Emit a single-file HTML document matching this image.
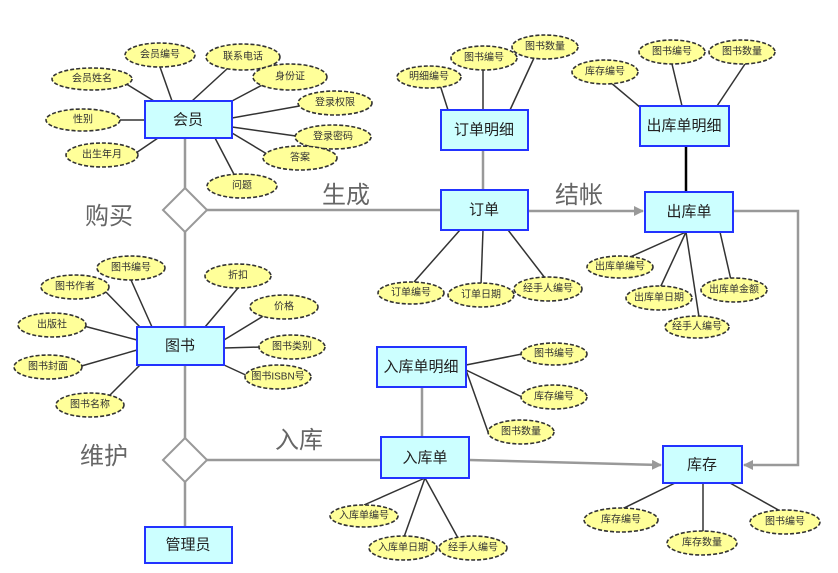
<!DOCTYPE html>
<html><head><meta charset="utf-8"><style>
html,body{margin:0;padding:0;background:#fff;}
svg{display:block;font-family:"Liberation Sans","Noto Sans CJK SC",sans-serif;}
.e{fill:#ffff99;stroke:#333;stroke-width:1.6;stroke-dasharray:4,2;}
.r{fill:#ccffff;stroke:#2233ff;stroke-width:2;}
.l{stroke:#333;stroke-width:1.5;}
.g{stroke:#999;stroke-width:2.5;fill:none;}
.t{font-size:10px;fill:#333;text-anchor:middle;dominant-baseline:central;}
.n{font-size:15px;fill:#222;text-anchor:middle;dominant-baseline:central;}
.b{font-size:24px;fill:#666;}
</style></head><body>
<svg width="838" height="573" viewBox="0 0 838 573">
<defs><marker id="a" markerWidth="10" markerHeight="10" refX="9" refY="5" orient="auto" markerUnits="userSpaceOnUse"><path d="M0,0 L10,5 L0,10 z" fill="#999"/></marker></defs>
<!-- gray relation lines -->
<path class="g" d="M185,138 V188 M185,232 V327 M207,210 H441 M185,365 V438 M185,482 V527 M207,460 H381 M483,150 V190 M422,387 V437"/>
<path class="g" d="M528,211 H643" marker-end="url(#a)"/>
<path class="g" d="M469,460 L661,465" marker-end="url(#a)"/>
<path class="g" d="M733,211 H798 V465 H744" marker-end="url(#a)"/>
<line x1="686" y1="146" x2="686" y2="192" stroke="#000" stroke-width="2.5"/>
<polygon points="185,188 207,210 185,232 163,210" fill="#fff" stroke="#999" stroke-width="2"/>
<polygon points="185,438 207,460 185,482 163,460" fill="#fff" stroke="#999" stroke-width="2"/>
<!-- attribute lines -->
<g class="l">
<line x1="172" y1="101" x2="160" y2="67"/><line x1="192" y1="101" x2="228" y2="68"/><line x1="232" y1="101" x2="266" y2="83"/>
<line x1="232" y1="118" x2="305" y2="105"/><line x1="232" y1="127" x2="303" y2="137"/><line x1="232" y1="133" x2="272" y2="157"/><line x1="215" y1="138" x2="238" y2="182"/>
<line x1="154" y1="101" x2="120" y2="80"/><line x1="145" y1="120" x2="115" y2="120"/><line x1="158" y1="138" x2="130" y2="157"/>
<line x1="448" y1="110" x2="440" y2="85"/><line x1="483" y1="110" x2="483" y2="70"/><line x1="510" y1="110" x2="534" y2="58"/>
<line x1="460" y1="230" x2="414" y2="282"/><line x1="483" y1="230" x2="481" y2="285"/><line x1="508" y1="230" x2="545" y2="278"/>
<line x1="641" y1="108" x2="610" y2="82"/><line x1="682" y1="106" x2="672" y2="64"/><line x1="717" y1="106" x2="745" y2="64"/>
<line x1="686" y1="232" x2="619" y2="262"/><line x1="686" y1="232" x2="660" y2="288"/><line x1="686" y1="232" x2="699" y2="317"/><line x1="720" y1="232" x2="731" y2="280"/>
<line x1="152" y1="327" x2="131" y2="280"/><line x1="140" y1="327" x2="104" y2="290"/><line x1="137" y1="340" x2="80" y2="325"/><line x1="137" y1="350" x2="78" y2="367"/><line x1="140" y1="365" x2="110" y2="395"/>
<line x1="205" y1="327" x2="238" y2="288"/><line x1="224" y1="340" x2="265" y2="315"/><line x1="224" y1="348" x2="262" y2="347"/><line x1="224" y1="365" x2="250" y2="377"/>
<line x1="466" y1="365" x2="522" y2="354"/><line x1="466" y1="370" x2="522" y2="397"/><line x1="466" y1="370" x2="488" y2="432"/>
<line x1="425" y1="478" x2="364" y2="505"/><line x1="425" y1="478" x2="404" y2="537"/><line x1="425" y1="478" x2="458" y2="538"/>
<line x1="675" y1="483" x2="620" y2="510"/><line x1="703" y1="483" x2="703" y2="533"/><line x1="730" y1="483" x2="782" y2="512"/>
</g>
<!-- entities -->
<rect class="r" x="145" y="101" width="87" height="37"/><text class="n" x="188" y="120">会员</text>
<rect class="r" x="137" y="327" width="87" height="38"/><text class="n" x="180" y="346">图书</text>
<rect class="r" x="145" y="527" width="87" height="36"/><text class="n" x="188" y="545">管理员</text>
<rect class="r" x="441" y="110" width="87" height="40"/><text class="n" x="484" y="130">订单明细</text>
<rect class="r" x="441" y="190" width="87" height="40"/><text class="n" x="484" y="210">订单</text>
<rect class="r" x="640" y="106" width="89" height="40"/><text class="n" x="684" y="126">出库单明细</text>
<rect class="r" x="645" y="192" width="88" height="40"/><text class="n" x="689" y="212">出库单</text>
<rect class="r" x="377" y="347" width="89" height="40"/><text class="n" x="421" y="367">入库单明细</text>
<rect class="r" x="381" y="437" width="88" height="41"/><text class="n" x="425" y="458">入库单</text>
<rect class="r" x="663" y="446" width="79" height="37"/><text class="n" x="702" y="465">库存</text>
<!-- big labels -->
<text class="b" x="85" y="224">购买</text>
<text class="b" x="322" y="203">生成</text>
<text class="b" x="555" y="203">结帐</text>
<text class="b" x="80" y="464">维护</text>
<text class="b" x="275" y="448">入库</text>
<!-- attributes -->
<g>
<ellipse class="e" cx="160" cy="55" rx="35" ry="12"/><text class="t" x="160" y="55">会员编号</text>
<ellipse class="e" cx="243" cy="57" rx="37" ry="13"/><text class="t" x="243" y="57">联系电话</text>
<ellipse class="e" cx="290" cy="77" rx="37" ry="13"/><text class="t" x="290" y="77">身份证</text>
<ellipse class="e" cx="335" cy="103" rx="37" ry="12"/><text class="t" x="335" y="103">登录权限</text>
<ellipse class="e" cx="333" cy="137" rx="38" ry="12"/><text class="t" x="333" y="137">登录密码</text>
<ellipse class="e" cx="300" cy="158" rx="37" ry="12"/><text class="t" x="300" y="158">答案</text>
<ellipse class="e" cx="242" cy="186" rx="35" ry="12"/><text class="t" x="242" y="186">问题</text>
<ellipse class="e" cx="92" cy="79" rx="40" ry="11"/><text class="t" x="92" y="79">会员姓名</text>
<ellipse class="e" cx="83" cy="120" rx="37" ry="11"/><text class="t" x="83" y="120">性别</text>
<ellipse class="e" cx="102" cy="155" rx="36" ry="12"/><text class="t" x="102" y="155">出生年月</text>
<ellipse class="e" cx="429" cy="77" rx="32" ry="11"/><text class="t" x="429" y="77">明细编号</text>
<ellipse class="e" cx="484" cy="58" rx="33" ry="12"/><text class="t" x="484" y="58">图书编号</text>
<ellipse class="e" cx="545" cy="47" rx="33" ry="12"/><text class="t" x="545" y="47">图书数量</text>
<ellipse class="e" cx="411" cy="293" rx="33" ry="11"/><text class="t" x="411" y="293">订单编号</text>
<ellipse class="e" cx="481" cy="295" rx="33" ry="12"/><text class="t" x="481" y="295">订单日期</text>
<ellipse class="e" cx="548" cy="289" rx="34" ry="12"/><text class="t" x="548" y="289">经手人编号</text>
<ellipse class="e" cx="605" cy="72" rx="33" ry="12"/><text class="t" x="605" y="72">库存编号</text>
<ellipse class="e" cx="672" cy="52" rx="33" ry="12"/><text class="t" x="672" y="52">图书编号</text>
<ellipse class="e" cx="742" cy="52" rx="33" ry="12"/><text class="t" x="742" y="52">图书数量</text>
<ellipse class="e" cx="620" cy="267" rx="33" ry="11"/><text class="t" x="620" y="267">出库单编号</text>
<ellipse class="e" cx="659" cy="298" rx="33" ry="12"/><text class="t" x="659" y="298">出库单日期</text>
<ellipse class="e" cx="734" cy="290" rx="33" ry="12"/><text class="t" x="734" y="290">出库单金额</text>
<ellipse class="e" cx="697" cy="327" rx="32" ry="11"/><text class="t" x="697" y="327">经手人编号</text>
<ellipse class="e" cx="131" cy="268" rx="34" ry="12"/><text class="t" x="131" y="268">图书编号</text>
<ellipse class="e" cx="75" cy="287" rx="34" ry="12"/><text class="t" x="75" y="287">图书作者</text>
<ellipse class="e" cx="52" cy="325" rx="34" ry="12"/><text class="t" x="52" y="325">出版社</text>
<ellipse class="e" cx="48" cy="367" rx="34" ry="12"/><text class="t" x="48" y="367">图书封面</text>
<ellipse class="e" cx="90" cy="405" rx="34" ry="12"/><text class="t" x="90" y="405">图书名称</text>
<ellipse class="e" cx="238" cy="276" rx="33" ry="12"/><text class="t" x="238" y="276">折扣</text>
<ellipse class="e" cx="284" cy="307" rx="34" ry="12"/><text class="t" x="284" y="307">价格</text>
<ellipse class="e" cx="292" cy="347" rx="33" ry="12"/><text class="t" x="292" y="347">图书类别</text>
<ellipse class="e" cx="278" cy="377" rx="33" ry="12"/><text class="t" x="278" y="377">图书ISBN号</text>
<ellipse class="e" cx="554" cy="354" rx="33" ry="11"/><text class="t" x="554" y="354">图书编号</text>
<ellipse class="e" cx="554" cy="397" rx="33" ry="12"/><text class="t" x="554" y="397">库存编号</text>
<ellipse class="e" cx="521" cy="432" rx="33" ry="12"/><text class="t" x="521" y="432">图书数量</text>
<ellipse class="e" cx="364" cy="516" rx="34" ry="11"/><text class="t" x="364" y="516">入库单编号</text>
<ellipse class="e" cx="403" cy="548" rx="34" ry="12"/><text class="t" x="403" y="548">入库单日期</text>
<ellipse class="e" cx="473" cy="548" rx="34" ry="12"/><text class="t" x="473" y="548">经手人编号</text>
<ellipse class="e" cx="621" cy="520" rx="37" ry="12"/><text class="t" x="621" y="520">库存编号</text>
<ellipse class="e" cx="702" cy="543" rx="35" ry="12"/><text class="t" x="702" y="543">库存数量</text>
<ellipse class="e" cx="785" cy="522" rx="35" ry="12"/><text class="t" x="785" y="522">图书编号</text>
</g>
</svg>
</body></html>
